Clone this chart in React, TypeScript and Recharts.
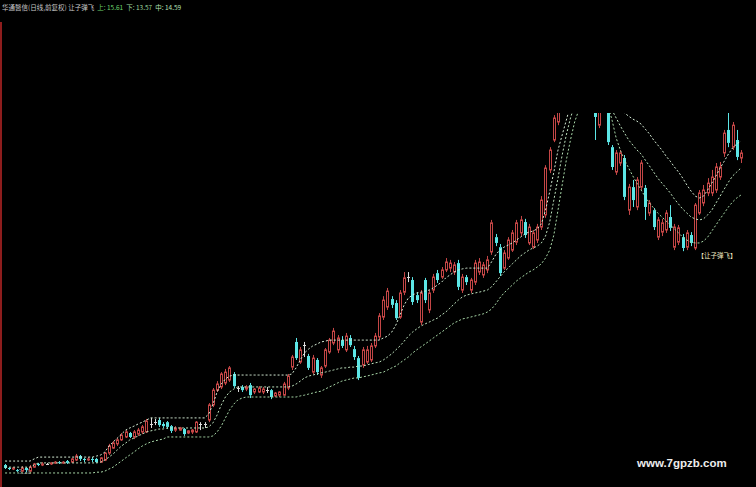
import React from 'react';
import { ComposedChart, Bar, Line, XAxis, YAxis } from 'recharts';

const open = [
  3.37,3.26,3.22,3.18,3.14,3.26,3.14,3.29,3.41,3.37,3.41,3.41,3.45,3.48,3.45,3.52,3.48,3.56,3.71,3.60,3.56,3.60,3.60,3.48,
  3.56,3.82,4.01,4.17,4.32,4.43,4.58,4.43,4.54,4.62,4.62,4.92,4.99,5.07,4.92,4.99,4.84,4.69,4.69,4.73,4.58,4.62,4.62,4.92,4.92,
  5.07,5.64,6.20,6.32,6.47,6.58,6.81,6.28,6.32,6.24,6.39,6.13,6.13,6.13,6.20,6.20,5.98,6.01,6.01,6.28,7.07,
  8.02,7.26,7.90,7.49,6.88,7.34,6.77,7.11,7.64,7.98,7.72,8.09,7.72,8.17,7.75,7.41,7.15,7.26,7.34,7.87,8.21,8.96,9.34,
  9.64,9.49,8.96,9.90,10.47,10.36,9.79,8.77,10.36,9.23,9.98,10.62,10.47,10.74,10.81,10.66,11.00,9.98,10.47,9.98,
  10.28,10.66,10.55,10.74,11.42,11.98,11.60,10.81,11.19,11.49,11.79,12.14,12.55,11.76,11.60,11.87,12.36,
  12.82,14.52,15.65,16.33,16.97,17.62,18.22,18.75,19.16,18.68,19.13,18.49,17.73,16.21,17.08,16.97,15.38,14.44,14.78,14.97,
  13.00,13.87,13.12,13.87,13.84,12.89,13.00,11.98,12.17,12.25,12.74,11.60,11.79,11.98,11.60,12.06,11.57,12.89,13.27,13.65,
  13.65,13.76,14.25,15.16,16.03,15.38,15.65,14.97,
];
const close = [
  3.26,3.22,3.26,3.14,3.26,3.18,3.29,3.41,3.37,3.41,3.41,3.45,3.48,3.45,3.48,3.45,3.60,3.71,3.60,3.56,3.60,3.56,3.48,3.64,
  3.82,4.09,4.20,4.32,4.50,4.62,4.43,4.62,4.69,4.81,5.03,4.92,4.99,4.88,4.84,4.81,4.66,4.77,4.77,4.54,4.66,4.69,4.99,4.92,4.92,
  5.64,6.20,6.43,6.81,6.88,7.04,6.35,6.28,6.20,6.32,6.01,6.24,6.28,6.24,6.20,5.94,6.09,6.13,6.43,6.73,7.45,
  7.41,7.72,7.90,7.04,7.41,6.88,7.04,7.72,8.09,8.43,8.17,7.87,8.24,7.90,7.45,6.66,7.72,7.72,7.87,8.24,9.00,9.60,9.94,
  9.42,8.92,9.87,10.44,10.47,9.53,9.60,9.87,9.60,9.87,10.47,10.36,10.74,11.04,11.00,10.93,10.10,10.47,10.28,10.36,
  11.00,11.04,10.93,11.12,12.52,11.76,10.62,11.38,11.87,12.14,12.52,12.63,12.06,12.36,12.14,12.36,13.38,
  14.59,15.27,16.48,17.16,17.73,18.30,18.86,19.24,18.68,19.24,18.49,17.92,16.52,16.97,16.78,15.57,14.63,15.16,15.16,13.50,
  13.87,13.38,14.14,14.78,13.12,13.27,12.36,12.63,12.52,12.89,12.33,12.36,12.33,11.57,12.14,11.76,13.19,13.65,13.76,14.02,
  14.25,14.63,14.63,15.91,15.54,16.21,15.01,15.16,
];
const high = [
  3.41,3.29,3.29,3.22,3.33,3.29,3.37,3.45,3.45,3.48,3.45,3.48,3.52,3.52,3.52,3.56,3.64,3.79,3.75,3.64,3.67,3.67,3.64,3.67,
  3.86,4.17,4.28,4.39,4.58,4.69,4.62,4.69,4.77,4.88,5.11,5.15,5.11,5.15,4.99,5.03,4.88,4.84,4.81,4.77,4.69,4.73,5.03,4.99,4.99,
  5.71,6.28,6.54,6.88,7.00,7.11,6.88,6.35,6.39,6.39,6.47,6.28,6.35,6.32,6.32,6.24,6.13,6.16,6.51,6.81,7.53,
  8.17,7.83,8.02,7.57,7.53,7.41,7.11,7.79,8.17,8.55,8.28,8.24,8.36,8.28,7.87,7.49,7.83,7.87,7.98,8.36,9.11,9.75,10.06,
  9.75,9.60,9.98,10.66,10.66,10.47,9.90,9.98,10.44,9.98,10.59,10.74,10.85,11.19,11.12,11.04,11.12,10.59,10.55,10.44,
  11.12,11.19,11.04,11.27,12.63,12.10,11.72,11.49,11.98,12.25,12.63,12.78,12.67,12.48,12.25,12.48,13.53,
  14.70,15.38,16.59,17.35,17.92,18.49,19.05,19.50,19.43,19.43,19.36,18.75,17.92,17.16,17.31,17.16,15.46,15.27,15.27,15.08,
  13.99,14.14,14.25,14.89,13.95,13.38,13.08,12.74,12.67,13.00,13.19,12.48,12.44,12.10,12.25,12.17,13.27,13.76,13.95,14.21,
  14.52,14.78,14.82,16.03,16.67,16.33,16.03,15.27,
];
const low = [
  3.22,3.18,3.18,3.10,3.10,3.10,3.10,3.26,3.33,3.33,3.37,3.37,3.41,3.41,3.41,3.41,3.45,3.52,3.52,3.48,3.52,3.48,3.45,3.45,
  3.52,3.75,3.98,4.09,4.28,4.39,4.39,4.35,4.47,4.54,4.58,4.77,4.88,4.81,4.77,4.73,4.58,4.62,4.66,4.47,4.54,4.54,4.58,4.69,4.77,
  4.99,5.56,6.13,6.24,6.39,6.51,6.28,6.13,6.13,6.16,5.90,6.05,6.09,6.05,6.09,5.86,5.94,5.94,5.98,6.20,6.96,
  7.34,7.19,7.45,6.96,6.81,6.77,6.66,7.04,7.57,7.90,7.60,7.79,7.64,7.83,7.34,6.58,7.04,7.19,7.26,7.79,8.09,8.85,9.23,
  9.30,8.85,8.89,9.79,10.28,9.42,9.49,8.66,9.49,9.11,9.87,10.25,10.40,10.66,10.66,10.55,9.98,9.87,10.17,9.87,
  10.17,10.55,10.44,10.62,11.31,11.64,10.51,10.74,11.12,11.42,11.68,12.02,11.95,11.68,11.53,11.76,12.25,
  12.71,14.40,15.57,16.21,16.71,17.47,18.00,18.60,18.45,18.49,18.22,17.62,15.65,16.10,16.71,15.46,14.52,14.33,14.67,13.38,
  12.82,13.12,13.00,13.76,12.63,12.78,12.25,11.87,12.02,12.14,12.21,11.49,11.68,11.45,11.49,11.64,11.49,12.82,13.15,13.53,
  13.53,13.65,14.14,15.01,15.38,15.27,14.89,14.78,
];
const upper = [
  3.52,3.52,3.52,3.52,3.52,3.52,3.52,3.60,3.67,3.67,3.67,3.67,3.67,3.67,3.67,3.67,3.67,3.67,3.67,3.67,3.67,3.67,3.71,3.75,
  3.86,4.09,4.24,4.39,4.54,4.69,4.77,4.84,4.92,4.99,5.07,5.15,5.15,5.15,5.15,5.15,5.15,5.15,5.15,5.15,5.15,5.15,5.15,5.15,5.15,
  5.30,5.67,6.13,6.43,6.62,6.73,6.77,6.77,6.77,6.77,6.77,6.77,6.77,6.77,6.77,6.77,6.77,6.77,6.77,6.77,
  6.81,7.04,7.34,7.60,7.75,7.87,7.94,8.02,8.05,8.09,8.09,8.09,8.09,8.09,8.09,8.09,8.09,8.09,8.09,8.09,8.09,8.09,8.17,8.24,
  8.39,8.66,9.04,9.42,9.68,9.79,9.87,9.90,9.94,9.98,10.06,10.17,10.28,10.44,10.55,10.66,10.74,10.78,10.81,10.81,
  10.81,10.81,10.81,10.81,11.04,11.31,11.49,11.60,11.68,11.76,11.87,11.98,12.10,12.17,12.21,12.29,12.48,
  13.00,13.69,14.44,15.27,15.84,16.40,16.97,17.35,17.73,18.30,18.60,18.75,18.68,18.49,18.22,17.92,17.54,17.24,16.93,16.67,
  16.55,16.44,16.36,16.25,16.06,15.88,15.65,15.46,15.27,15.04,14.85,14.63,14.44,14.21,13.95,13.72,13.53,13.46,13.53,13.76,
  14.02,14.29,14.59,14.85,15.12,15.35,15.50,15.61,
];
const mid = [
  3.29,3.29,3.29,3.29,3.29,3.29,3.29,3.37,3.45,3.45,3.45,3.45,3.45,3.45,3.45,3.45,3.45,3.45,3.45,3.45,3.45,3.45,3.45,3.48,
  3.56,3.67,3.79,3.94,4.09,4.20,4.32,4.39,4.47,4.54,4.62,4.66,4.69,4.73,4.73,4.77,4.77,4.77,4.77,4.77,4.77,4.77,4.77,4.77,4.77,
  4.81,4.96,5.26,5.64,5.94,6.13,6.24,6.32,6.32,6.32,6.32,6.32,6.32,6.32,6.32,6.32,6.32,6.32,6.32,6.32,
  6.35,6.43,6.54,6.66,6.73,6.77,6.81,6.85,6.88,6.92,6.96,7.00,7.04,7.04,7.07,7.07,7.11,7.11,7.15,7.19,7.23,7.26,7.34,7.45,
  7.57,7.72,7.87,8.05,8.24,8.39,8.51,8.62,8.70,8.77,8.85,8.92,9.04,9.15,9.30,9.45,9.60,9.72,9.79,9.83,
  9.87,9.90,9.94,9.98,10.10,10.28,10.47,10.66,10.81,10.97,11.12,11.27,11.38,11.49,11.57,11.64,11.76,
  12.02,12.55,13.38,14.21,15.08,15.84,16.48,16.97,17.35,17.73,18.11,18.30,18.22,18.00,17.73,17.35,16.78,16.48,16.18,15.91,
  15.65,15.46,15.27,15.12,14.89,14.67,14.44,14.21,14.02,13.84,13.65,13.42,13.23,13.04,12.89,12.74,12.67,12.63,12.67,12.82,
  13.00,13.27,13.53,13.80,14.06,14.29,14.44,14.59,
];
const lower = [
  3.07,3.07,3.07,3.07,3.07,3.07,3.07,3.07,3.07,3.07,3.07,3.07,3.07,3.07,3.07,3.07,3.07,3.07,3.07,3.07,3.07,3.07,3.10,3.10,
  3.14,3.22,3.29,3.41,3.52,3.64,3.75,3.86,3.98,4.09,4.17,4.24,4.28,4.32,4.35,4.43,4.43,4.43,4.43,4.43,4.43,4.43,4.43,4.43,4.43,
  4.43,4.47,4.62,4.84,5.15,5.45,5.67,5.83,5.90,5.94,5.94,5.94,5.94,5.94,5.94,5.94,5.94,5.94,5.94,5.94,
  5.94,5.94,5.98,6.01,6.05,6.09,6.13,6.16,6.24,6.32,6.39,6.47,6.54,6.58,6.62,6.66,6.66,6.70,6.73,6.77,6.81,6.85,6.88,6.96,
  7.04,7.11,7.23,7.34,7.45,7.60,7.72,7.83,7.94,8.05,8.17,8.28,8.39,8.51,8.62,8.74,8.81,8.89,8.92,8.96,
  9.00,9.04,9.08,9.15,9.26,9.45,9.68,9.87,10.02,10.17,10.32,10.44,10.55,10.66,10.74,10.85,10.97,
  11.19,11.49,12.06,13.00,13.95,14.89,15.65,16.33,16.78,17.16,17.54,17.73,17.62,17.35,17.16,16.97,16.40,15.72,15.27,14.89,
  14.59,14.29,14.02,13.76,13.50,13.27,13.08,12.89,12.74,12.59,12.44,12.29,12.14,11.98,11.87,11.79,11.76,11.76,11.83,11.98,
  12.21,12.44,12.67,12.89,13.12,13.31,13.46,13.57,
];

const stockName = '华通醫信(日线,前复权)';
const indicatorName = '让子弹飞';
const signals = [
  { index: 166, text: '【让子弹飞】', color: '#f0ecc4', pos: 'below' },
  { index: 3, text: '3.28', color: '#9c9c9c', pos: 'low' },
];
const watermark = 'www.7gpzb.com';

const RED = '#c44646';
const CYAN = '#5ce6e6';
const DOJI = '#dcdcdc';
const CJK = "'Noto Sans CJK SC', 'Noto Sans', sans-serif";

const rows = open.map((o, i) => ({
  i,
  open: o,
  close: close[i],
  high: high[i],
  low: low[i],
  range: [low[i], high[i]],
  upper: upper[i],
  mid: mid[i],
  lower: lower[i],
}));

const Candle = (props: any) => {
  const { x, y, width, height, payload } = props;
  if (!payload) return null;
  const o = payload.open, c = payload.close, h = payload.high, l = payload.low;
  const top = Math.min(y, y + height);
  const span = Math.abs(height);
  const ppu = h > l ? span / (h - l) : 0;
  const py = (v: number) => top + (h - v) * ppu;
  const cx = Math.floor(x + width / 2) + 0.5;
  const yo = py(o), yc = py(c), yh = py(h), yl = py(l);
  const bTop = Math.min(yo, yc);
  const bBot = Math.max(yo, yc);
  const up = c > o;
  const flat = c === o;
  const col = flat ? DOJI : up ? RED : CYAN;
  const sigs = signals.filter((s) => s.index === payload.i);
  return (
    <g>
      <line x1={cx} x2={cx} y1={yh} y2={bTop} stroke={col} strokeWidth={1} />
      <line x1={cx} x2={cx} y1={bBot} y2={yl} stroke={col} strokeWidth={1} />
      {flat ? (
        <line x1={cx - 1.5} x2={cx + 1.5} y1={Math.round(yo) + 0.5} y2={Math.round(yo) + 0.5} stroke={col} strokeWidth={1} />
      ) : up ? (
        <rect x={cx - 1} y={bTop} width={2} height={Math.max(bBot - bTop, 1)} fill="#000" stroke={col} strokeWidth={1} />
      ) : (
        <rect x={cx - 1.5} y={bTop} width={3} height={Math.max(bBot - bTop, 1)} fill={col} />
      )}
      {sigs.map((s, k) => (
        <text
          key={k}
          x={s.pos === 'below' ? cx + 2 : cx + 1}
          y={s.pos === 'below' ? yl + 7.5 : yl + 1.5}
          fontSize={6.5}
          fontFamily={CJK}
          fill={s.color}
        >
          {s.text}
        </text>
      ))}
    </g>
  );
};

export default function App() {
  const last = rows.length - 1;
  const fmt = (v: number) => v.toFixed(2);
  return (
    <div style={{ position: 'absolute', left: 0, top: 0, width: 756, height: 487, background: '#000', overflow: 'hidden' }}>
      <ComposedChart width={756} height={487} data={rows} margin={{ top: 113, right: 13, bottom: 0, left: 3 }}>
        <XAxis dataKey="i" hide />
        <YAxis hide type="number" domain={[2.54, 16.67]} allowDataOverflow />
        <Bar dataKey="range" barSize={3} shape={Candle} isAnimationActive={false} />
        <Line type="linear" dataKey="upper" stroke="#d6ecd6" strokeWidth={1} strokeDasharray="2 2" dot={false} activeDot={false} isAnimationActive={false} />
        <Line type="linear" dataKey="mid" stroke="#bfe3bf" strokeWidth={1} strokeDasharray="2 2" dot={false} activeDot={false} isAnimationActive={false} />
        <Line type="linear" dataKey="lower" stroke="#a8d8a8" strokeWidth={1} strokeDasharray="2 2" dot={false} activeDot={false} isAnimationActive={false} />
      </ComposedChart>
      <svg width={756} height={487} style={{ position: 'absolute', left: 0, top: 0, pointerEvents: 'none' }}>
        <rect x={0} y={22} width={2} height={465} fill="#8e1d1d" />
        <text x={2} y={9.5} fontSize={6.5} fontFamily={CJK}>
          <tspan fill="#c8c8c8">{stockName} {indicatorName}</tspan>
          <tspan fill="#6cd06c" dx={3}>上: {fmt(upper[last])}</tspan>
          <tspan fill="#9ed89e" dx={3}>下: {fmt(lower[last])}</tspan>
          <tspan fill="#b4e0b4" dx={3}>中: {fmt(mid[last])}</tspan>
        </text>
        <text x={637} y={467} fontSize={11.5} fontWeight="bold" fontFamily="'Liberation Sans', Arial, sans-serif" fill="#ececec">
          {watermark}
        </text>
      </svg>
    </div>
  );
}
